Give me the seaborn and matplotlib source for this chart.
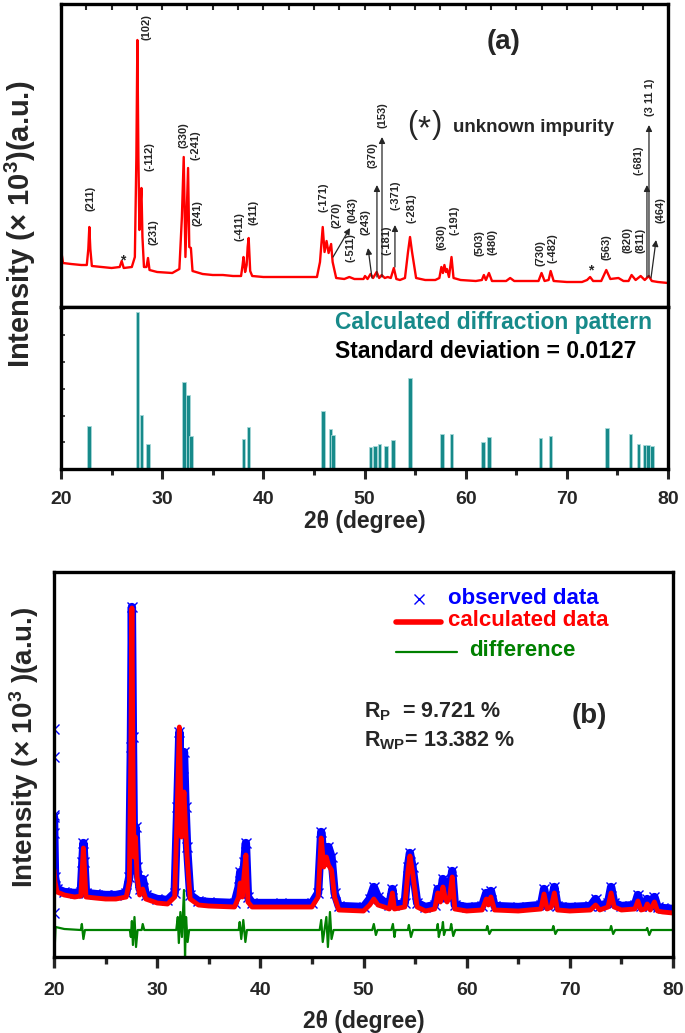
import matplotlib
matplotlib.use('Agg')
import matplotlib.pyplot as plt
import seaborn as sns
from matplotlib.ticker import MultipleLocator
from matplotlib.lines import Line2D

# ---------------- panel (a): measured pattern (2theta, intensity) ----------------
xrd_tt = [20.0, 20.08, 20.2, 21.0, 22.0, 22.55, 22.7, 22.8, 22.9, 23.05, 24.0, 25.0, 25.8, 26.0,
          26.2, 27.0, 27.3, 27.45, 27.55, 27.65, 27.75, 27.85, 27.95, 28.05, 28.2, 28.45, 28.6,
          28.75, 29.5, 31.0, 31.7, 31.95, 32.13, 32.3, 32.42, 32.56, 32.68, 32.84, 33.0, 34.0,
          35.0, 36.0, 37.0, 37.8, 37.95, 38.04, 38.2, 38.35, 38.45, 38.55, 38.7, 38.9, 40.0,
          42.0, 44.0, 45.3, 45.6, 45.87, 46.05, 46.25, 46.45, 46.7, 46.85, 47.2, 48.0, 48.5,
          49.0, 49.9, 50.05, 50.3, 50.6, 50.85, 51.2, 51.45, 51.7, 52.0, 52.3, 52.6, 52.9,
          53.15, 53.5, 54.0, 54.3, 54.5, 54.7, 55.1, 56.0, 57.0, 57.4, 57.6, 57.75, 57.9, 58.05,
          58.15, 58.35, 58.6, 58.8, 59.5, 61.0, 61.6, 61.8, 62.0, 62.3, 62.6, 64.0, 64.4, 64.8,
          66.5, 67.2, 67.5, 67.8, 68.2, 68.4, 68.7, 70.0, 71.5, 72.0, 72.3, 72.6, 73.4, 73.9,
          74.3, 75.1, 75.6, 76.1, 76.4, 76.8, 77.3, 77.7, 78.1, 78.4, 79.0, 80.0]
xrd_int = [80, 52, 44, 43, 42, 42, 58, 80, 58, 41, 40, 39, 40, 46,
           39, 40, 50, 150, 267, 150, 77, 100, 119, 70, 40, 40, 49,
           37, 35, 34, 38, 90, 150, 50, 90, 139, 60, 59, 36, 33,
           32, 32, 31, 31, 42, 50, 35, 42, 60, 69, 36, 31, 30,
           30, 30, 30, 45, 80, 55, 66, 54, 63, 45, 29, 28, 30,
           28, 28, 31, 28, 33, 29, 35, 29, 32, 29, 30, 29, 39,
           28, 27, 29, 55, 70, 55, 29, 27, 27, 29, 40, 34, 42, 35,
           38, 30, 50, 29, 27, 26, 27, 32, 27, 34, 26, 26, 29, 26,
           26, 26, 34, 26, 27, 36, 26, 25, 25, 27, 30, 26, 26, 37,
           28, 29, 26, 26, 32, 27, 31, 27, 31, 26, 25, 24]

# calculated stick pattern (relative intensity)
stick_tt = [22.78, 27.55, 27.95, 28.6, 32.13, 32.56, 32.84, 38.04, 38.55, 45.87, 46.65, 46.89,
            50.6, 51.04, 51.47, 52.1, 52.8, 54.52, 57.65, 58.6, 61.72, 62.3, 67.4, 68.37,
            73.97, 76.28, 77.1, 77.73, 78.04, 78.4]
stick_h = [0.275, 1.0, 0.345, 0.16, 0.554, 0.47, 0.207, 0.19, 0.27, 0.37, 0.254, 0.218,
           0.137, 0.148, 0.159, 0.146, 0.186, 0.577, 0.222, 0.222, 0.17, 0.205, 0.2, 0.21,
           0.262, 0.222, 0.159, 0.152, 0.154, 0.144]

# hkl labels
hkl_text = ['(211)', '(102)', '(-112)', '(231)', '(330)', '(-241)', '(241)', '(-411)', '(411)',
            '(-171)', '(270)', '(-511)', '(043)', '(243)', '(370)', '(153)', '(-181)', '(-371)',
            '(-281)', '(630)', '(-191)', '(503)', '(480)', '(730)', '(-482)', '(563)', '(820)',
            '(811)', '(-681)', '(3 11 1)', '(464)']
hkl_tt = [22.87, 28.5, 28.7, 29.1, 32.06, 33.34, 33.54, 37.69, 38.98, 45.9, 47.28, 48.57,
          48.86, 50.05, 50.84, 51.73, 52.22, 53.11, 54.69, 57.66, 58.94, 61.32, 62.7, 67.35,
          68.63, 73.97, 75.95, 77.24, 77.04, 78.2, 79.21]
hkl_y = [109, 280, 150, 75, 172, 162, 94, 80, 95, 110, 92, 59, 97, 85, 152, 192, 67, 112,
         99, 70, 87, 64, 65, 54, 59, 60, 67, 67, 147, 210, 97]

# arrows pointing to weak reflections (tail -> head)
arr_tt0 = [46.89, 50.74, 51.23, 51.73, 53.01, 77.92, 78.12, 78.32]
arr_y0 = [50, 29, 30, 30, 40, 30, 30, 29]
arr_tt1 = [48.57, 50.35, 51.23, 51.73, 53.01, 77.92, 78.12, 78.82]
arr_y1 = [79, 59, 122, 170, 82, 122, 182, 67]

# impurity marks
star_tt = [26.1, 72.4]
star_y = [47, 37]

# ---------------- panel (b): Rietveld refinement ----------------
calc_tt = [20.0, 20.1, 20.3, 21.0, 22.0, 22.6, 22.75, 22.85, 22.95, 23.1, 24.0, 25.0, 26.0, 27.0,
           27.3, 27.45, 27.55, 27.65, 27.75, 27.9, 28.05, 28.3, 28.6, 28.9, 30.0, 31.0, 31.7,
           31.95, 32.15, 32.35, 32.5, 32.6, 32.75, 32.9, 33.2, 34.0, 35.0, 37.5, 37.9, 38.05,
           38.25, 38.45, 38.6, 38.8, 39.2, 42.0, 45.0, 45.6, 45.9, 46.15, 46.4, 46.6, 46.9,
           47.2, 47.6, 50.0, 50.6, 51.0, 51.4, 52.0, 52.5, 52.8, 53.0, 54.0, 54.3, 54.5, 54.75,
           55.2, 56.0, 56.9, 57.2, 57.45, 57.7, 57.9, 58.1, 58.35, 58.6, 58.85, 60.0, 61.5,
           61.9, 62.1, 62.35, 62.7, 65.0, 67.2, 67.5, 67.8, 68.2, 68.5, 68.8, 70.0, 72.0, 72.5,
           72.9, 73.7, 74.0, 74.3, 75.0, 76.3, 76.6, 76.9, 77.3, 77.5, 77.8, 78.2, 78.5, 79.0,
           80.0]
calc_int = [87, 75, 65, 62, 60, 61, 90, 109, 90, 60, 59, 58, 58, 60,
            75, 200, 349, 200, 100, 120, 80, 62, 68, 58, 54, 53, 60,
            150, 230, 120, 150, 165, 130, 100, 58, 52, 51, 50, 60, 74,
            60, 85, 102, 55, 50, 50, 50, 60, 119, 90, 100, 92, 87,
            60, 47, 46, 52, 58, 52, 50, 48, 64, 48, 50, 85, 101, 85,
            50, 46, 48, 64, 55, 70, 60, 55, 60, 80, 48, 46, 47,
            58, 52, 60, 47, 46, 48, 63, 48, 50, 64, 47, 46, 47, 52,
            47, 50, 64, 50, 47, 48, 56, 47, 48, 53, 47, 55, 46, 45,
            44]
obs_int = [140, 80, 68, 65, 64, 65, 95, 114, 95, 64, 63, 62, 62, 64,
           80, 210, 350, 220, 110, 130, 90, 68, 78, 62, 58, 57, 64,
           150, 225, 140, 180, 205, 150, 110, 62, 56, 55, 54, 70, 85,
           65, 95, 114, 60, 54, 54, 54, 64, 125, 95, 108, 110, 100,
           64, 51, 50, 58, 70, 60, 55, 52, 68, 52, 54, 90, 104, 90,
           54, 50, 52, 68, 60, 78, 64, 60, 66, 86, 52, 50, 51,
           64, 56, 66, 51, 50, 52, 68, 52, 54, 70, 51, 50, 51, 58,
           51, 54, 70, 54, 51, 52, 62, 51, 52, 58, 51, 60, 50, 49,
           48]
# scattered observed points at the very start of the scan
obs_start_tt = [20.03, 20.03, 20.03, 20.03, 20.03]
obs_start_int = [228, 200, 142, 124, 44]

diff_tt = [20.0, 20.02, 20.05, 20.15, 21.0, 22.6, 22.7, 22.85, 23.0, 27.35, 27.45, 27.55, 27.65,
           27.8, 27.95, 28.1, 28.5, 28.6, 28.75, 31.85, 32.0, 32.1, 32.25, 32.4, 32.6, 32.7,
           32.8, 32.95, 33.1, 37.9, 38.0, 38.15, 38.35, 38.55, 38.7, 45.75, 45.9, 46.05, 46.4,
           46.55, 46.75, 46.9, 47.1, 50.85, 51.0, 51.2, 51.35, 52.7, 52.85, 53.0, 53.1, 54.3,
           54.4, 54.6, 54.8, 57.1, 57.2, 57.3, 57.45, 57.6, 57.7, 57.8, 57.95, 58.4, 58.5, 58.7,
           58.9, 61.9, 62.0, 62.2, 62.4, 68.3, 68.4, 68.6, 68.8, 73.9, 74.0, 74.2, 74.4, 77.4,
           77.5, 77.7, 77.9, 80.0]
diff_int = [27, 95, 5, 30, 28, 27, 33, 18, 27, 27, 20, 36, 12,
            40, 10, 27, 27, 33, 27, 27, 40, 14, 45, 20, 67, 0,
            40, 15, 27, 27, 35, 18, 37, 15, 27, 27, 37, 15, 40,
            10, 45, 18, 27, 27, 33, 22, 27, 27, 33, 20, 27, 27,
            32, 20, 27, 27, 33, 20, 27, 27, 35, 22, 27, 27, 33, 21,
            27, 27, 31, 23, 27, 27, 31, 23, 27, 27, 31, 23, 27, 27,
            29, 22, 27, 27]

# ---------------- style ----------------
sns.set_style('white')
plt.rcParams['font.family'] = ['Liberation Sans', 'DejaVu Sans']
plt.rcParams['font.weight'] = 'bold'
plt.rcParams['mathtext.fontset'] = 'custom'
plt.rcParams['mathtext.rm'] = 'Liberation Sans:bold'
plt.rcParams['mathtext.bf'] = 'Liberation Sans:bold'
plt.rcParams['mathtext.default'] = 'bf'

W, H = 685, 1033
fig = plt.figure(figsize=(W / 100, H / 100), dpi=100)


def box(l, t, r, b):
    return [l / W, 1 - b / H, (r - l) / W, (b - t) / H]


def ftext(x, y, s, **kw):
    fig.text(x / W, 1 - y / H, s, **kw)


ax1 = fig.add_axes(box(61, 4, 668, 307))
ax2 = fig.add_axes(box(61, 307, 668, 469))
ax3 = fig.add_axes(box(54, 572, 673, 957))

for ax in (ax1, ax2, ax3):
    for sp in ax.spines.values():
        sp.set_linewidth(2.4)
        sp.set_color('black')
    ax.set_xlim(20, 80)

# ---- (a) top: measured
sns.lineplot(x=xrd_tt, y=xrd_int, ax=ax1, color='red', lw=1.7, sort=False, estimator=None)
ax1.set_ylim(0, 303)
ax1.set_yticks([])
ax1.xaxis.set_major_locator(MultipleLocator(2.5))
ax1.tick_params(axis='x', which='major', top=True, bottom=False, direction='in',
                length=4, width=1.5, labelbottom=False, labeltop=False)
for s, t, y in zip(hkl_text, hkl_tt, hkl_y):
    ax1.text(t, y, s, rotation=90, ha='center', va='center', fontsize=8, fontweight='bold')
for t0, y0, t1, y1 in zip(arr_tt0, arr_y0, arr_tt1, arr_y1):
    ax1.annotate('', xy=(t1, y1), xytext=(t0, y0),
                 arrowprops=dict(arrowstyle='-|>', color='0.15', lw=0.9,
                                 mutation_scale=9, shrinkA=0, shrinkB=0))
for t, y in zip(star_tt, star_y):
    ax1.text(t, y, '*', ha='center', va='center', fontsize=10, fontweight='bold')
ftext(504, 42, '(a)', ha='center', va='center', fontsize=20, fontweight='bold')
ftext(412, 125, '(', fontsize=22, fontweight='normal', ha='center', va='center')
ftext(424, 130, '*', fontsize=24, fontweight='normal', ha='center', va='center')
ftext(437, 125, ')', fontsize=22, fontweight='normal', ha='center', va='center')
ftext(453, 127, 'unknown impurity', fontsize=13.5, fontweight='bold', va='center')

# ---- (a) bottom: calculated sticks
ax2.bar(stick_tt, stick_h, width=0.36, color='#178a8a', edgecolor='#a6d8d8', linewidth=0.6)
ax2.set_ylim(0, 1.03)
ax2.yaxis.set_major_locator(MultipleLocator(0.17))
ax2.tick_params(axis='y', which='major', left=True, direction='in', length=3, width=1.2,
                labelleft=False)
ax2.xaxis.set_major_locator(MultipleLocator(10))
ax2.xaxis.set_minor_locator(MultipleLocator(5))
ax2.tick_params(axis='x', which='major', bottom=True, direction='out', length=7, width=2.2,
                labelsize=14, pad=8.5)
ax2.tick_params(axis='x', which='minor', bottom=True, direction='out', length=4, width=2.2)
ax2.set_xlabel('2θ (degree)', fontsize=16.5, fontweight='bold', labelpad=2)

ftext(335, 323, 'Calculated diffraction pattern', color='#178a8a', fontsize=16.5,
      fontweight='bold', va='center')
ftext(335, 352, 'Standard deviation = 0.0127', color='black', fontsize=16.5,
      fontweight='bold', va='center')

ftext(20, 224, 'Intensity (× 10$^3$)(a.u.)', rotation=90, ha='center', va='center',
      fontsize=21, fontweight='bold')

# ---- (b) Rietveld
sns.lineplot(x=calc_tt, y=obs_int, ax=ax3, color='blue', lw=6, sort=False, estimator=None)
ax3.plot(calc_tt, obs_int, ls='none', marker='x', ms=7, mew=1.0, color='blue')
ax3.plot(obs_start_tt, obs_start_int, ls='none', marker='x', ms=7, mew=1.0, color='blue')
sns.lineplot(x=calc_tt, y=calc_int, ax=ax3, color='red', lw=3.5, sort=False, estimator=None)
sns.lineplot(x=diff_tt, y=diff_int, ax=ax3, color='green', lw=1.6, sort=False, estimator=None)
ax3.set_ylim(0, 385)
ax3.set_yticks([])
ax3.xaxis.set_major_locator(MultipleLocator(10))
ax3.xaxis.set_minor_locator(MultipleLocator(5))
ax3.tick_params(axis='x', which='major', bottom=True, direction='out', length=8, width=2.4,
                labelsize=14, pad=10)
ax3.tick_params(axis='x', which='minor', bottom=True, direction='out', length=5, width=2.4)
ax3.set_xlabel('2θ (degree)', fontsize=16.5, fontweight='bold', labelpad=8)

ftext(24, 747, 'Intensity (× 10$^3$ )(a.u.)', rotation=90, ha='center', va='center',
      fontsize=20, fontweight='bold')

# legend drawn by hand
fig.add_artist(Line2D([419 / W], [1 - 599 / H], marker='x', ms=7, mew=1.0, color='blue', ls='none'))
ftext(448, 598, 'observed data', color='blue', fontsize=16, fontweight='bold', va='center')
fig.add_artist(Line2D([396 / W, 441 / W], [1 - 622 / H] * 2, color='red', lw=4))
ftext(448, 621, 'calculated data', color='red', fontsize=16, fontweight='bold', va='center')
fig.add_artist(Line2D([396 / W, 457 / W], [1 - 652 / H] * 2, color='green', lw=1.6))
ftext(469, 650, 'difference', color='green', fontsize=16, fontweight='bold', va='center')
ftext(364, 712, 'R$_\\mathregular{P}$  = 9.721 %', fontsize=15.5, fontweight='bold', va='center')
ftext(364, 741, 'R$_\\mathregular{WP}$= 13.382 %', fontsize=15.5, fontweight='bold', va='center')
ftext(589, 716, '(b)', fontsize=20, fontweight='bold', ha='center', va='center')

fig.savefig('out.png', dpi=100)
